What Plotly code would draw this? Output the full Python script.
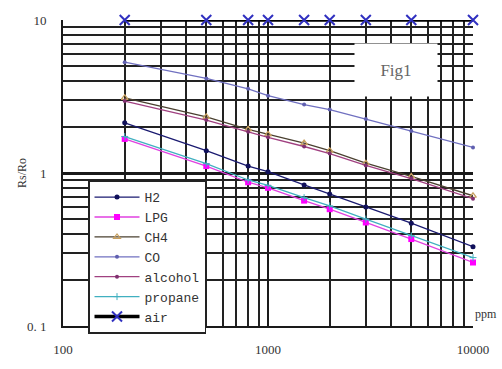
import plotly.graph_objects as go

ppm = [200, 500, 800, 1000, 1500, 2000, 3000, 5000, 10000]
h2 = [2.13, 1.40, 1.11, 1.02, 0.835, 0.73, 0.60, 0.47, 0.33]
lpg = [1.67, 1.11, 0.87, 0.80, 0.66, 0.58, 0.475, 0.37, 0.26]
ch4 = [3.1, 2.33, 1.93, 1.79, 1.57, 1.40, 1.16, 0.95, 0.71]
co = [5.3, 4.15, 3.55, 3.2, 2.8, 2.6, 2.25, 1.88, 1.47]
alcohol = [2.95, 2.22, 1.86, 1.71, 1.49, 1.34, 1.12, 0.92, 0.68]
propane = [1.73, 1.15, 0.90, 0.83, 0.69, 0.61, 0.50, 0.39, 0.28]
air = [10, 10, 10, 10, 10, 10, 10, 10, 10]

x_major = [100, 1000, 10000]
x_major_text = ["100", "1000", "10000"]
y_major = [0.1, 1, 10]
y_major_text = ["0. 1", "1", "10"]
x_minor = [200, 300, 400, 500, 600, 700, 800, 900, 2000, 3000, 4000, 5000, 6000, 7000, 8000, 9000]
y_minor = [0.2, 0.3, 0.4, 0.5, 0.6, 0.7, 0.8, 0.9, 2, 3, 4, 5, 6, 7, 8, 9]

fig = go.Figure()

def add(name, ys, lc, mc, sym, ms, lw=1.3, mline=None):
    marker = dict(color=mc, symbol=sym, size=ms)
    if mline:
        marker["line"] = mline
    fig.add_trace(go.Scatter(x=ppm, y=ys, name=name, mode="lines+markers",
                             line=dict(color=lc, width=lw), marker=marker,
                             cliponaxis=False))

add("H2", h2, "#1a1a70", "#10105a", "circle", 5)
add("LPG", lpg, "#e040e0", "#ff00ff", "square", 6)
add("CH4", ch4, "#4a4030", "#c8a060", "triangle-up-open", 6, mline=dict(color="#6a5020", width=1.2))
add("CO", co, "#7070c0", "#6060b0", "circle", 4)
add("alcohol", alcohol, "#a04080", "#803070", "circle", 4)
add("propane", propane, "#40b0c0", "#40b0c0", "cross-thin-open", 5, mline=dict(color="#40b0c0", width=1))
add("air", air, "#000000", "#3030c0", "x-thin-open", 10, lw=3.5, mline=dict(color="#3030c0", width=2))

fig.update_layout(
    width=502, height=369,
    margin=dict(l=63, r=29, t=20, b=30),
    paper_bgcolor="white", plot_bgcolor="white",
    showlegend=True,
    legend=dict(x=0.061, y=0.475, xanchor="left", yanchor="top",
                bgcolor="white", bordercolor="#222", borderwidth=1.5,
                font=dict(family="Liberation Mono", size=13, color="#333"),
                tracegroupgap=0, itemwidth=45),
    font=dict(family="Liberation Serif", size=13, color="#333"),
)

fig.update_xaxes(type="log", range=[2, 4], tickmode="array", tickvals=x_major,
                 ticktext=x_major_text, showgrid=True, gridcolor="#1a1a1a", gridwidth=2,
                 showline=True, linecolor="#1a1a1a", linewidth=2, ticks="", ticklabelstandoff=10,
                 zeroline=False,
                 minor=dict(tickmode="array", tickvals=x_minor, showgrid=True,
                            gridcolor="#222", gridwidth=1.6, ticks=""))
fig.update_yaxes(type="log", range=[-1, 1], tickmode="array", tickvals=y_major,
                 ticktext=y_major_text, showgrid=True, gridcolor="#1a1a1a", gridwidth=2.6,
                 showline=True, linecolor="#1a1a1a", linewidth=2, ticks="", ticklabelstandoff=12,
                 zeroline=False,
                 minor=dict(tickmode="array", tickvals=y_minor, showgrid=True,
                            gridcolor="#222", gridwidth=1.6, ticks=""))

fig.add_annotation(x=0.813, y=0.835, xref="paper", yref="paper", text="Fig1",
                   xanchor="center", yanchor="middle",
                   showarrow=False, width=80, height=50, bgcolor="white",
                   font=dict(family="Liberation Serif", size=17, color="#666"))
fig.add_annotation(x=-0.1, y=0.5, xref="paper", yref="paper", text="Rs/Ro",
                   xanchor="center", yanchor="middle",
                   textangle=-90, showarrow=False,
                   font=dict(family="Liberation Serif", size=12, color="#333"))
fig.add_annotation(x=1.0, y=0.04, xref="paper", yref="paper", text="ppm",
                   xanchor="left", yanchor="middle", showarrow=False,
                   font=dict(family="Liberation Serif", size=12, color="#333"))

fig.write_html("out.html", config={"displayModeBar": False},
               post_script="document.body.style.margin='0';document.body.style.overflow='hidden';")
